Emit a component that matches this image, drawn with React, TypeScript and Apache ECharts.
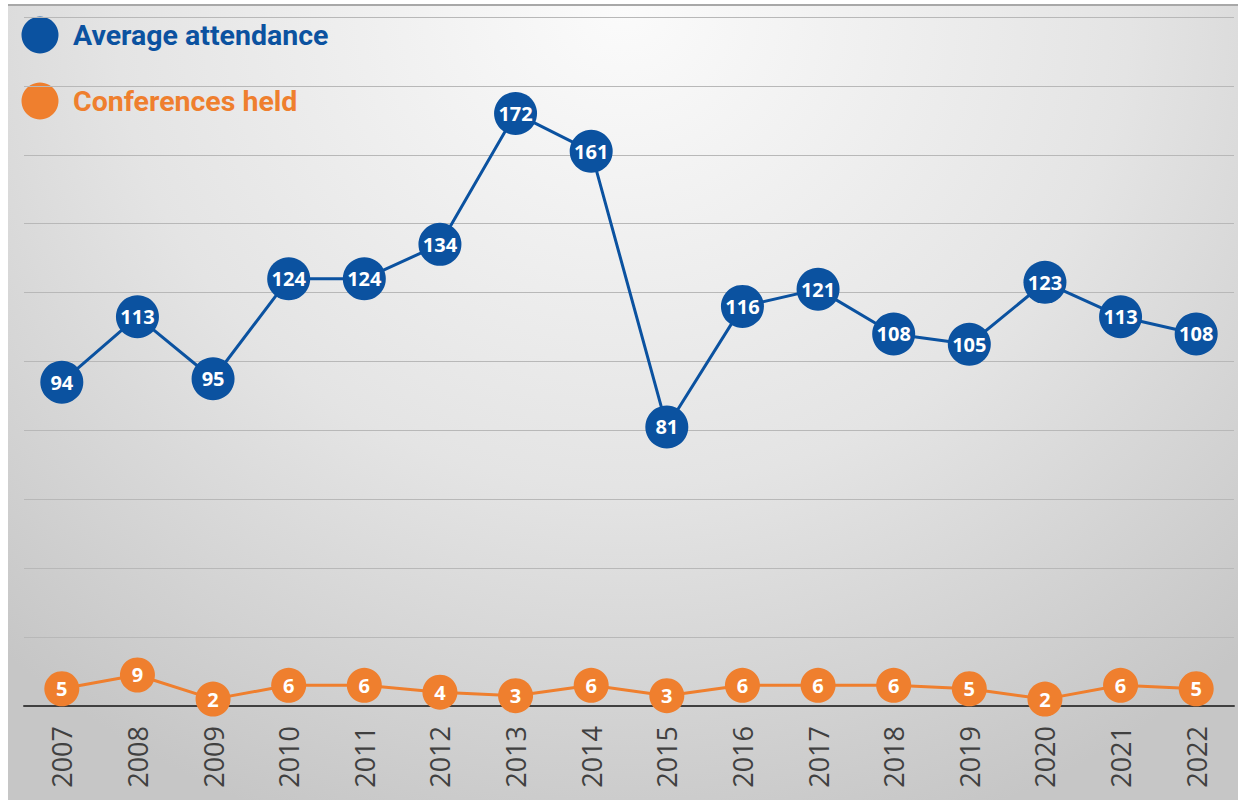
import React, { useEffect, useRef } from "react";
import * as echarts from "echarts";

const years = ["2007", "2008", "2009", "2010", "2011", "2012", "2013", "2014", "2015", "2016", "2017", "2018", "2019", "2020", "2021", "2022"];
const averageAttendance = [94, 113, 95, 124, 124, 134, 172, 161, 81, 116, 121, 108, 105, 123, 113, 108];
const conferencesHeld = [5, 9, 2, 6, 6, 4, 3, 6, 3, 6, 6, 6, 5, 2, 6, 5];
const seriesNames = ["Average attendance", "Conferences held"];

const BLUE = "#0b52a0";
const ORANGE = "#ef7f2e";

export default function App() {
  const ref = useRef<HTMLDivElement>(null);

  useEffect(() => {
    if (!ref.current) return;
    const chart = echarts.init(ref.current, undefined, { renderer: "svg" });
    const labelStyle = {
      show: true,
      position: "inside" as const,
      color: "#ffffff",
      fontWeight: "bold" as const,
      fontSize: 20,
      fontFamily: "Open Sans",
    };
    chart.setOption({
      animation: false,
      backgroundColor: "transparent",
      grid: { left: 24, right: 13, top: 17, bottom: 94, containLabel: false },
      xAxis: {
        type: "category",
        data: years,
        boundaryGap: true,
        axisLine: { show: true, lineStyle: { color: "#404040", width: 2 } },
        axisTick: { show: false },
        axisLabel: {
          rotate: 90,
          margin: 20,
          fontSize: 27,
          color: "#404040",
          fontFamily: "Open Sans",
        },
      },
      yAxis: {
        type: "value",
        min: 0,
        max: 200,
        interval: 20,
        axisLabel: { show: false },
        axisLine: { show: false },
        axisTick: { show: false },
        splitLine: { show: true, lineStyle: { color: "#b8b8b8", width: 1 } },
      },
      graphic: [
        { type: "circle", shape: { cx: 40, cy: 35, r: 18.5 }, style: { fill: BLUE } },
        {
          type: "text",
          x: 73,
          y: 35,
          style: {
            text: seriesNames[0],
            fill: BLUE,
            font: "bold 28.5px 'Liberation Sans Narrow', 'Roboto', sans-serif",
            verticalAlign: "middle",
          },
        },
        { type: "circle", shape: { cx: 40, cy: 101, r: 18.5 }, style: { fill: ORANGE } },
        {
          type: "text",
          x: 73,
          y: 101,
          style: {
            text: seriesNames[1],
            fill: ORANGE,
            font: "bold 28.5px 'Liberation Sans Narrow', 'Roboto', sans-serif",
            verticalAlign: "middle",
          },
        },
      ],
      series: [
        {
          name: seriesNames[0],
          type: "line",
          data: averageAttendance,
          symbol: "circle",
          symbolSize: 43,
          lineStyle: { color: BLUE, width: 3 },
          itemStyle: { color: BLUE },
          label: labelStyle,
          z: 3,
        },
        {
          name: seriesNames[1],
          type: "line",
          data: conferencesHeld,
          symbol: "circle",
          symbolSize: 35,
          lineStyle: { color: ORANGE, width: 3 },
          itemStyle: { color: ORANGE },
          label: labelStyle,
          z: 3,
        },
      ],
    });
    return () => chart.dispose();
  }, []);

  return (
    <div style={{ position: "fixed", left: 0, top: 0, width: 1247, height: 800, background: "#ffffff" }}>
      <div
        style={{
          position: "absolute",
          left: 8,
          top: 4,
          width: 1230,
          height: 796,
          boxSizing: "border-box",
          borderTop: "2px solid #a8a8a8",
          background: "radial-gradient(ellipse 75% 110% at 50% 0%, #fbfbfb 0%, #e4e4e4 55%, #c6c6c6 100%)",
        }}
      />
      <div ref={ref} style={{ position: "absolute", left: 0, top: 0, width: 1247, height: 800 }} />
    </div>
  );
}
